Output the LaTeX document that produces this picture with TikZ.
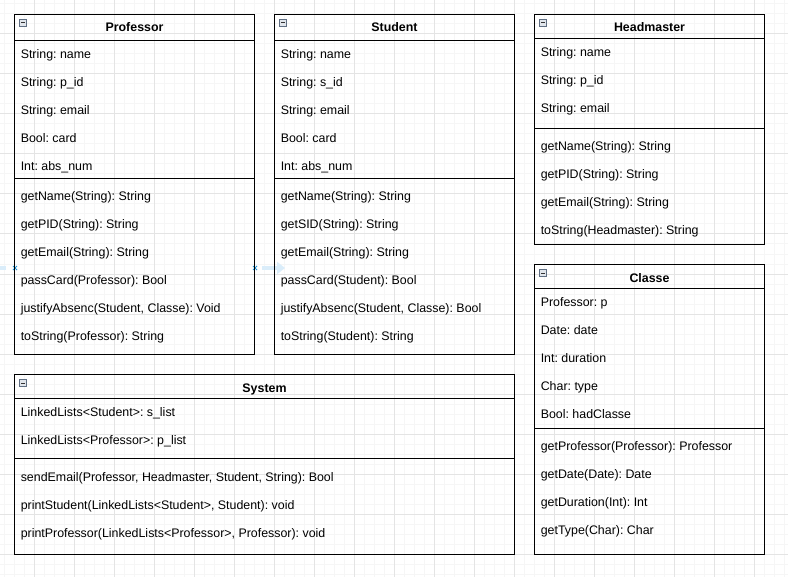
\documentclass[tikz,border=0pt]{standalone}
\usepackage{fontspec}
\setmainfont{Liberation Sans}
\usetikzlibrary{fit,arrows.meta}
\definecolor{gridminor}{RGB}{246,246,246}
\definecolor{gridmajor}{RGB}{228,228,228}
\definecolor{hintblue}{RGB}{30,150,220}
\definecolor{hintpale}{RGB}{218,237,250}
\definecolor{iconedge}{RGB}{95,110,130}
\definecolor{iconfill}{RGB}{225,230,236}
\frenchspacing
\tikzset{
  cls/.style={draw=black, line width=0.75pt, inner sep=0pt, outer sep=0pt},
  sepline/.style={draw=black, line width=0.75pt},
  ctitle/.style={anchor=base, inner sep=0pt, font=\fontsize{9.3}{11}\selectfont\bfseries},
  crow/.style={anchor=base west, inner sep=0pt, font=\fontsize{9.3}{11}\selectfont},
  gminor/.style={draw=gridminor, line width=0.75pt},
  gmajor/.style={draw=gridmajor, line width=0.75pt},
  hintx/.style={draw=hintblue, line width=0.6pt},
  minusicon/.pic={
    \draw[draw=iconedge, fill=iconfill, line width=0.6pt] (0,0) rectangle (7,7);
    \draw[draw=black!80, line width=0.75pt] (1.8,3.5) -- (5.2,3.5);
  }
}
\begin{document}
\begin{tikzpicture}[x=0.75pt, y=-0.75pt]
\useasboundingbox (0,0) rectangle (788,577);
\fill[white] (0,0) rectangle (788,577);
% grid
\foreach \g in {4,14,...,784} \draw[gminor] (\g,0) -- (\g,577);
\foreach \g in {4,14,...,574} \draw[gminor] (0,\g) -- (788,\g);
\foreach \g in {34,74,...,754} \draw[gmajor] (\g,0) -- (\g,577);
\foreach \g in {34,74,...,574} \draw[gmajor] (0,\g) -- (788,\g);

% hover hints
\draw[draw=hintpale, line width=3pt] (0,268) -- (6,268);
\draw[draw=hintpale, line width=3pt, -{Triangle[length=6pt,width=9pt]}] (262,268) -- (285,268);
\coordinate (hA) at (15,268);
\coordinate (hB) at (255,268);
\draw[hintx] ([shift={(-2,-2)}]hA) -- ([shift={(2,2)}]hA) ([shift={(-2,2)}]hA) -- ([shift={(2,-2)}]hA);
\draw[hintx] ([shift={(-2,-2)}]hB) -- ([shift={(2,2)}]hB) ([shift={(-2,2)}]hB) -- ([shift={(2,-2)}]hB);

% ===== Professor =====
\node[cls, fit={(14.5,14.5) (254.5,354.5)}] (prof) {};
\draw[sepline] (prof.west |- 0,40.5) -- (prof.east |- 0,40.5);
\draw[sepline] (prof.west |- 0,178.5) -- (prof.east |- 0,178.5);
\pic at (19.5,19.5) {minusicon};
\node[ctitle] (profT) at (134.5,32) {Professor};
\node[crow] (pa1) at (20.5,58.5) {String: name};
\node[crow] (pa2) at (20.5,86.5) {String: p\_id};
\node[crow] (pa3) at (20.5,114.5) {String: email};
\node[crow] (pa4) at (20.5,142.5) {Bool: card};
\node[crow] (pa5) at (20.5,170.5) {Int: abs\_num};
\node[crow] (pm1) at (20.5,200.5) {getName(String): String};
\node[crow] (pm2) at (20.5,228.5) {getPID(String): String};
\node[crow] (pm3) at (20.5,256.5) {getEmail(String): String};
\node[crow] (pm4) at (20.5,284.5) {passCard(Professor): Bool};
\node[crow] (pm5) at (20.5,312.5) {justifyAbsenc(Student, Classe): Void};
\node[crow] (pm6) at (20.5,340.5) {toString(Professor): String};

% ===== Student =====
\node[cls, fit={(274.5,14.5) (514.5,354.5)}] (stud) {};
\draw[sepline] (stud.west |- 0,40.5) -- (stud.east |- 0,40.5);
\draw[sepline] (stud.west |- 0,178.5) -- (stud.east |- 0,178.5);
\pic at (279.5,19.5) {minusicon};
\node[ctitle] (studT) at (394.5,32) {Student};
\node[crow] (sa1) at (280.5,58.5) {String: name};
\node[crow] (sa2) at (280.5,86.5) {String: s\_id};
\node[crow] (sa3) at (280.5,114.5) {String: email};
\node[crow] (sa4) at (280.5,142.5) {Bool: card};
\node[crow] (sa5) at (280.5,170.5) {Int: abs\_num};
\node[crow] (sm1) at (280.5,200.5) {getName(String): String};
\node[crow] (sm2) at (280.5,228.5) {getSID(String): String};
\node[crow] (sm3) at (280.5,256.5) {getEmail(String): String};
\node[crow] (sm4) at (280.5,284.5) {passCard(Student): Bool};
\node[crow] (sm5) at (280.5,312.5) {justifyAbsenc(Student, Classe): Bool};
\node[crow] (sm6) at (280.5,340.5) {toString(Student): String};

% ===== Headmaster =====
\node[cls, fit={(534.5,14.5) (764.5,244.5)}] (head) {};
\draw[sepline] (head.west |- 0,38.5) -- (head.east |- 0,38.5);
\draw[sepline] (head.west |- 0,128.5) -- (head.east |- 0,128.5);
\pic at (539.5,19.5) {minusicon};
\node[ctitle] (headT) at (649.5,32) {Headmaster};
\node[crow] (ha1) at (540.5,56.5) {String: name};
\node[crow] (ha2) at (540.5,84.5) {String: p\_id};
\node[crow] (ha3) at (540.5,112.5) {String: email};
\node[crow] (hm1) at (540.5,150.5) {getName(String): String};
\node[crow] (hm2) at (540.5,178.5) {getPID(String): String};
\node[crow] (hm3) at (540.5,206.5) {getEmail(String): String};
\node[crow] (hm4) at (540.5,234.5) {toString(Headmaster): String};

% ===== Classe =====
\node[cls, fit={(534.5,264.5) (764.5,554.5)}] (classe) {};
\draw[sepline] (classe.west |- 0,288.5) -- (classe.east |- 0,288.5);
\draw[sepline] (classe.west |- 0,428.5) -- (classe.east |- 0,428.5);
\pic at (539.5,269.5) {minusicon};
\node[ctitle] (classeT) at (649.5,282) {Classe};
\node[crow] (ca1) at (540.5,306.5) {Professor: p};
\node[crow] (ca2) at (540.5,334.5) {Date: date};
\node[crow] (ca3) at (540.5,362.5) {Int: duration};
\node[crow] (ca4) at (540.5,390.5) {Char: type};
\node[crow] (ca5) at (540.5,418.5) {Bool: hadClasse};
\node[crow] (cm1) at (540.5,450.5) {getProfessor(Professor): Professor};
\node[crow] (cm2) at (540.5,478.5) {getDate(Date): Date};
\node[crow] (cm3) at (540.5,506.5) {getDuration(Int): Int};
\node[crow] (cm4) at (540.5,534.5) {getType(Char): Char};

% ===== System =====
\node[cls, fit={(14.5,374.5) (514.5,554.5)}] (sys) {};
\draw[sepline] (sys.west |- 0,398.5) -- (sys.east |- 0,398.5);
\draw[sepline] (sys.west |- 0,458.5) -- (sys.east |- 0,458.5);
\pic at (19.5,379.5) {minusicon};
\node[ctitle] (sysT) at (264.5,392) {System};
\node[crow] (ya1) at (20.5,416.5) {LinkedLists<Student>: s\_list};
\node[crow] (ya2) at (20.5,444.5) {LinkedLists<Professor>: p\_list};
\node[crow] (ym1) at (20.5,481) {sendEmail(Professor, Headmaster, Student, String): Bool};
\node[crow] (ym2) at (20.5,509) {printStudent(LinkedLists<Student>, Student): void};
\node[crow] (ym3) at (20.5,537) {printProfessor(LinkedLists<Professor>, Professor): void};
\end{tikzpicture}
\end{document}
